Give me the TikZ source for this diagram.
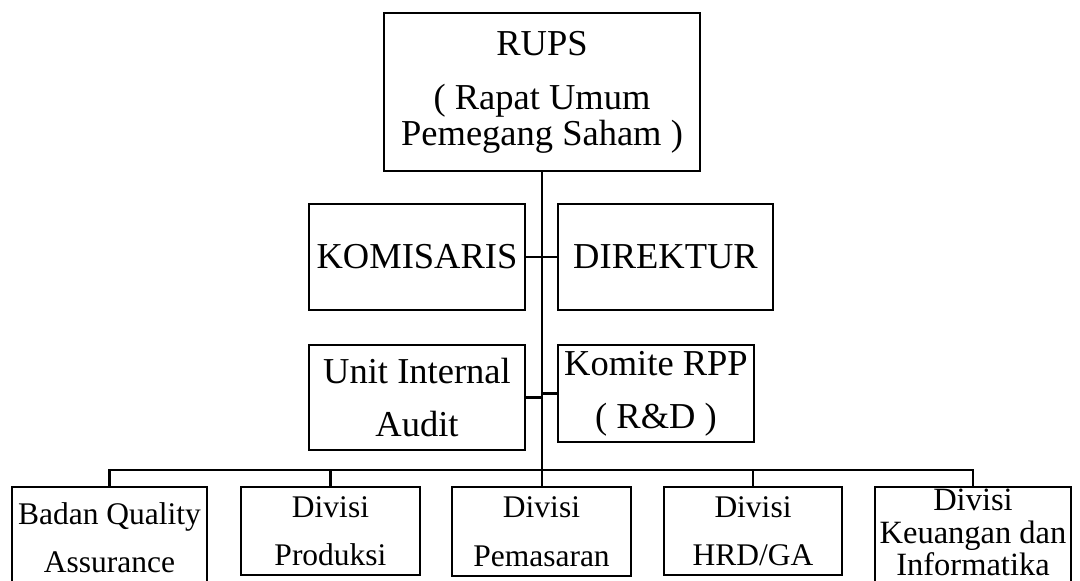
\documentclass[tikz,border=0pt]{standalone}
\usepackage{fontspec}
\setmainfont{Liberation Serif}
\begin{document}
\begin{tikzpicture}[x=1pt,y=-1pt,
  box/.style={draw,line width=2.9pt,inner sep=0pt,align=center},
  lowbox/.style={draw,line width=2.4pt,inner sep=0pt,align=center},
  big/.style={font=\fontsize{36.5}{53}\selectfont},
  small/.style={font=\fontsize{31.5}{48.5}\selectfont},
  tight/.style={font=\fontsize{32.5}{32.5}\selectfont},
  conn/.style={line width=2.9pt},
  lowconn/.style={line width=2.3pt}]
\useasboundingbox (0,0) rectangle (1080,581);
\clip (0,0) rectangle (1080,581);
\node[box,big,minimum width=316pt,minimum height=158pt] (rups) at (542,92)
  {RUPS\\[1pt]( Rapat Umum\\[-17pt]Pemegang Saham )};
\node[box,big,minimum width=216pt,minimum height=106pt] (kom) at (417,257) {KOMISARIS};
\node[box,big,minimum width=215pt,minimum height=106pt] (dir) at (665.5,257) {DIREKTUR};
\node[box,big,minimum width=216pt,minimum height=105pt] (unit) at (417,397.5) {Unit Internal\\Audit};
\node[box,big,minimum width=196pt,minimum height=97pt] (komite) at (656,393.5) {Komite RPP\\( R\&D )};
\node[lowbox,small,minimum width=195pt,minimum height=101pt] (b1) at (109.5,537.5) {Badan Quality\\Assurance};
\node[lowbox,small,minimum width=179pt,minimum height=88pt] (b2) at (330.5,531) {Divisi\\Produksi};
\node[lowbox,small,minimum width=179pt,minimum height=89pt] (b3) at (541.5,531.5) {Divisi\\Pemasaran};
\node[lowbox,small,minimum width=178pt,minimum height=88pt] (b4) at (753,531) {Divisi\\HRD/GA};
\node[lowbox,minimum width=196pt,minimum height=101pt] (b5) at (973,537.5) {};
\node[tight,align=center,inner sep=0pt] (b5t) at (973,532.5) {Divisi\\Keuangan dan\\Informatika};
\coordinate (bus) at (542,470);
\draw[conn] (rups.south) -- (rups.south |- b3.north);
\draw[conn] (kom.east) -- (dir.west);
\draw[conn] (unit.east) -- (unit.east -| rups.south);
\draw[conn] (komite.west) -- (komite.west -| rups.south);
\draw[lowconn] (b1.north) -- (b1.north |- bus) -- (b5.north |- bus) -- (b5.north);
\draw[lowconn] (b2.north) -- (b2.north |- bus);
\draw[lowconn] (b4.north) -- (b4.north |- bus);
\end{tikzpicture}
\end{document}
